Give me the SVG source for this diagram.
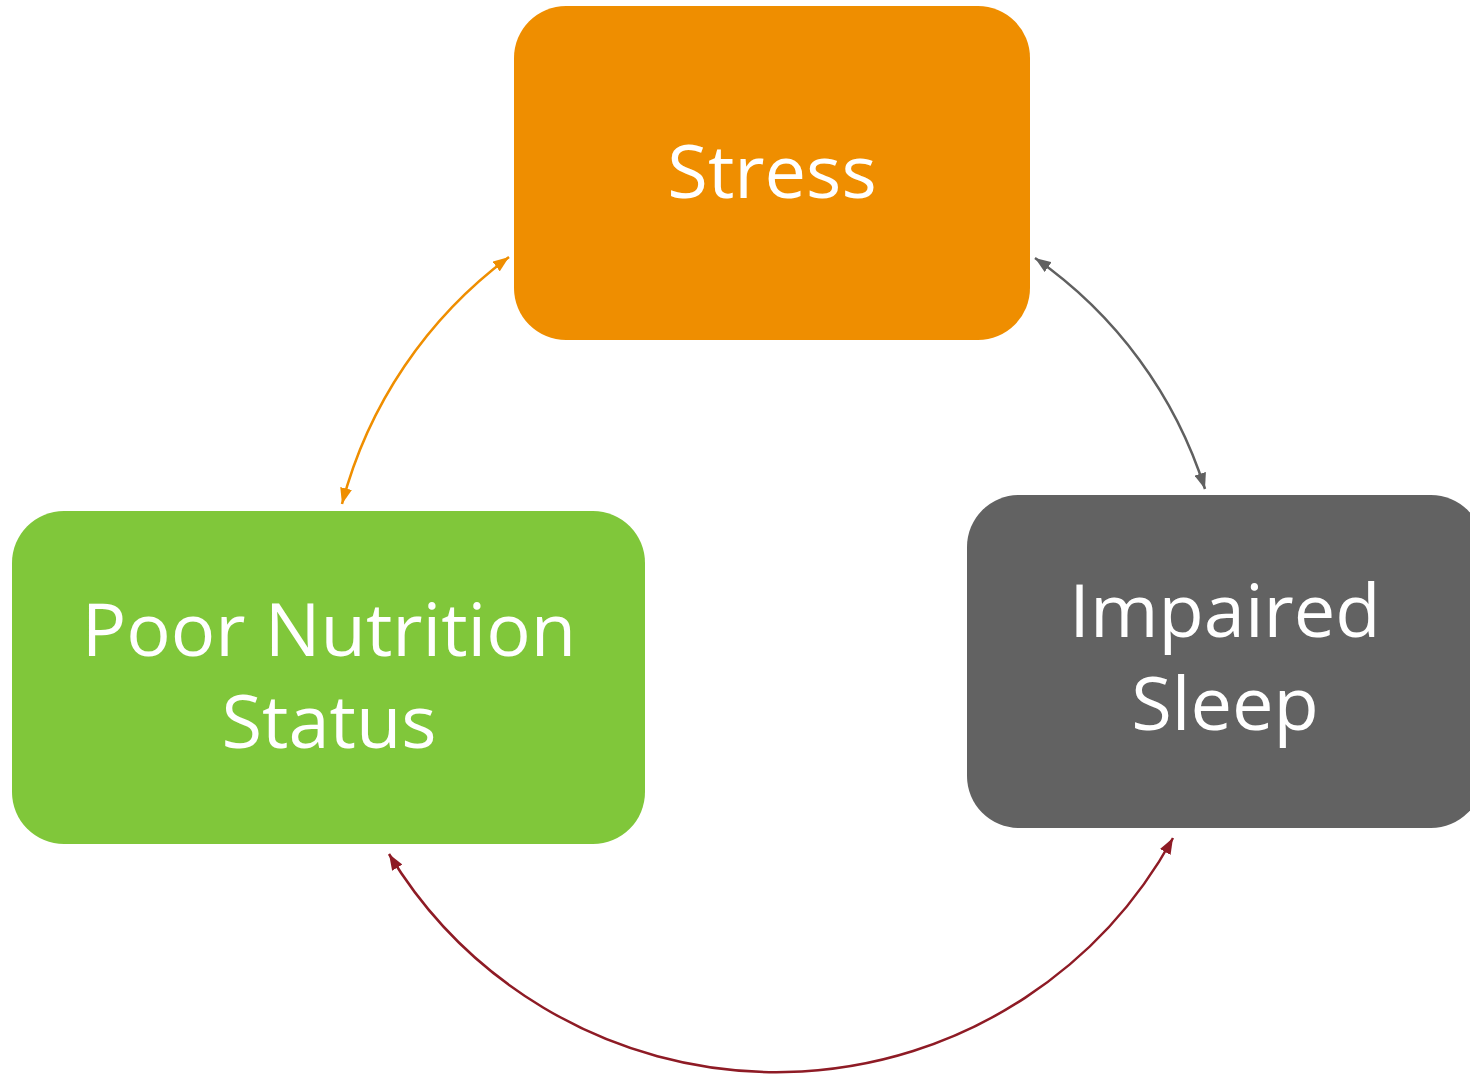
<svg xmlns="http://www.w3.org/2000/svg" width="1470" height="1076" viewBox="0 0 1470 1076">
<style>
.lbl{font-family:"Open Sans","Noto Sans",sans-serif;font-size:74px;fill:#ffffff;text-anchor:middle}
.c{fill:none;stroke-width:2.5}
</style>
<defs>
<marker id="mo" viewBox="0 0 16 12" refX="16" refY="6" markerWidth="16" markerHeight="12" markerUnits="userSpaceOnUse" orient="auto-start-reverse"><path d="M0,0 L16,6 L0,12 Z" fill="#EF8E00"/></marker>
<marker id="mg" viewBox="0 0 16 12" refX="16" refY="6" markerWidth="16" markerHeight="12" markerUnits="userSpaceOnUse" orient="auto-start-reverse"><path d="M0,0 L16,6 L0,12 Z" fill="#606060"/></marker>
<marker id="mr" viewBox="0 0 16 12" refX="16" refY="6" markerWidth="16" markerHeight="12" markerUnits="userSpaceOnUse" orient="auto-start-reverse"><path d="M0,0 L16,6 L0,12 Z" fill="#8E1B25"/></marker>
</defs>
<rect width="1470" height="1076" fill="#ffffff"/>
<g id="connectors">
<path class="c" stroke="#EF8E00" d="M342,504 A450,450 0 0 1 509,257" marker-start="url(#mo)" marker-end="url(#mo)"/>
<path class="c" stroke="#606060" d="M1035,258 A445,445 0 0 1 1205,489" marker-start="url(#mg)" marker-end="url(#mg)"/>
<path class="c" stroke="#8E1B25" d="M1173,838 A453,453 0 0 1 389,854" marker-start="url(#mr)" marker-end="url(#mr)"/>
</g>
<g id="stress">
<rect x="514" y="6" width="516" height="334" rx="52" fill="#EF8E00"/>
<text class="lbl" x="772" y="198">Stress</text>
</g>
<g id="nutrition">
<rect x="12" y="511" width="633" height="333" rx="52" fill="#80C73A"/>
<text class="lbl" x="329" y="656">Poor Nutrition</text>
<text class="lbl" x="329" y="748">Status</text>
</g>
<g id="sleep">
<rect x="967" y="495" width="516" height="333" rx="52" fill="#626262"/>
<text class="lbl" x="1225" y="637">Impaired</text>
<text class="lbl" x="1225" y="730">Sleep</text>
</g>
</svg>
